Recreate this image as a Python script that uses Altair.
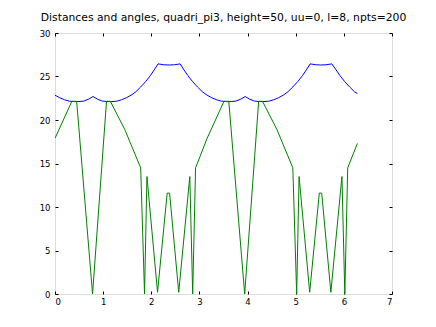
import altair as alt
import pandas as pd

# Blue series (distance)
blue_x = [0.00, 0.10, 0.20, 0.30, 0.40, 0.50, 0.60, 0.70, 0.79, 0.88, 0.98, 1.08, 1.18, 1.28, 1.38, 1.48,
          1.58, 1.68, 1.78, 1.88, 1.98, 2.06, 2.14, 2.26, 2.37, 2.48, 2.60, 2.68, 2.76, 2.86, 2.96, 3.06,
          3.16, 3.26, 3.36, 3.46, 3.56, 3.66, 3.76, 3.86, 3.95, 4.04, 4.14, 4.24, 4.34, 4.44, 4.54, 4.64,
          4.74, 4.84, 4.94, 5.04, 5.14, 5.22, 5.30, 5.42, 5.52, 5.63, 5.75, 5.84, 5.92, 6.02, 6.12, 6.22, 6.28]
blue_y = [22.85, 22.55, 22.32, 22.16, 22.12, 22.12, 22.18, 22.40, 22.70, 22.40, 22.18, 22.12, 22.12, 22.16, 22.32, 22.55,
          22.85, 23.25, 23.80, 24.40, 25.10, 25.75, 26.45, 26.35, 26.32, 26.35, 26.45, 25.75, 25.10, 24.40, 23.80, 23.25,
          22.85, 22.55, 22.32, 22.16, 22.12, 22.12, 22.18, 22.40, 22.70, 22.40, 22.18, 22.12, 22.12, 22.16, 22.32, 22.55,
          22.85, 23.25, 23.80, 24.40, 25.10, 25.75, 26.45, 26.35, 26.32, 26.35, 26.45, 25.75, 25.10, 24.40, 23.80, 23.25, 23.05]

# Green series (angle)
green_x = [0.00, 0.35, 0.45, 0.78, 1.07, 1.15, 1.45, 1.78, 1.86, 1.91, 2.13, 2.33, 2.38, 2.57, 2.80, 2.86, 2.92,
           3.16, 3.51, 3.61, 3.94, 4.23, 4.31, 4.61, 4.94, 5.02, 5.07, 5.29, 5.49, 5.54, 5.73, 5.96, 6.02, 6.08, 6.28]
green_y = [17.9, 22.15, 22.15, 0.0, 22.15, 22.15, 18.9, 14.5, 0.0, 13.5, 0.2, 11.6, 11.6, 0.2, 13.5, 0.0, 14.5,
           17.9, 22.15, 22.15, 0.0, 22.15, 22.15, 18.9, 14.5, 0.0, 13.5, 0.2, 11.6, 11.6, 0.2, 13.5, 0.0, 14.5, 17.3]

x_ticks = [0, 1, 2, 3, 4, 5, 6, 7]
y_ticks = [0, 5, 10, 15, 20, 25, 30]

title_text = "Distances and angles, quadri_pi3, height=50, uu=0, l=8, npts=200"

rows = []
for i, (x, y) in enumerate(zip(blue_x, blue_y)):
    rows.append({"x": x, "y": y, "series": "dist", "idx": i})
for i, (x, y) in enumerate(zip(green_x, green_y)):
    rows.append({"x": x, "y": y, "series": "angle", "idx": i})
df = pd.DataFrame(rows)

FONT = "DejaVu Sans"

xscale = alt.Scale(domain=[0, 7], nice=False, zero=False)
yscale = alt.Scale(domain=[0, 30], nice=False, zero=False)
cscale = alt.Scale(domain=["dist", "angle"], range=["#0000ff", "#008000"])

common_axis = dict(domain=False, ticks=True, tickSize=3, tickColor="black", tickWidth=1,
                   grid=False, labelFont=FONT, labelFontSize=8.5, labelColor="black", title=None, offset=-3)

main = alt.Chart(df).mark_line(strokeWidth=1, clip=True).encode(
    x=alt.X("x:Q", scale=xscale,
            axis=alt.Axis(values=x_ticks, orient="bottom", labelPadding=3, format="d", **common_axis)),
    y=alt.Y("y:Q", scale=yscale,
            axis=alt.Axis(values=y_ticks, orient="left", labelPadding=5, format="d", **common_axis)),
    color=alt.Color("series:N", scale=cscale, legend=None),
    order="idx:Q",
)

mirror = alt.Chart(df).mark_line(strokeWidth=1, clip=True, opacity=0).encode(
    x=alt.X("x:Q", scale=xscale,
            axis=alt.Axis(values=x_ticks, orient="top", labels=False, **common_axis)),
    y=alt.Y("y:Q", scale=yscale,
            axis=alt.Axis(values=y_ticks, orient="right", labels=False, **common_axis)),
    detail="series:N",
    order="idx:Q",
)

chart = alt.layer(mirror, main).resolve_axis(x="independent", y="independent").properties(
    width=337,
    height=261,
    title=alt.TitleParams(title_text, font=FONT, fontSize=10.8, fontWeight="normal",
                          color="black", anchor="middle", offset=6),
    padding={"left": 47, "top": 25, "right": 30, "bottom": 20},
    autosize=alt.AutoSizeParams(type="none"),
).configure_view(stroke="black", strokeWidth=1).configure(background="white")

chart.save("out.html", embed_options={"renderer": "svg", "actions": False})
